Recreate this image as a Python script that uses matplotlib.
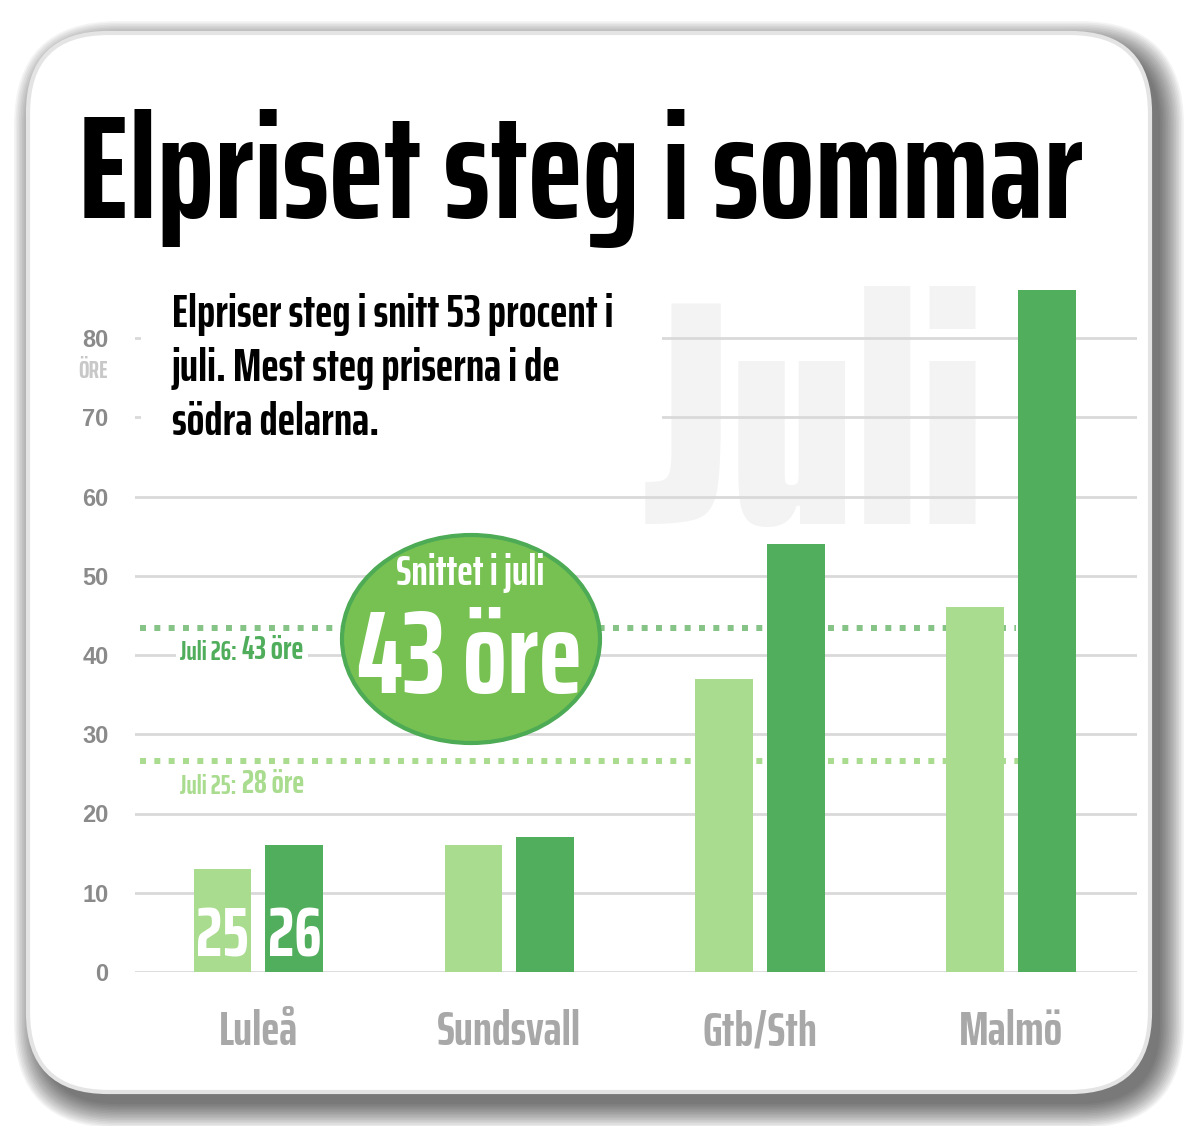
import matplotlib
matplotlib.use('Agg')
import matplotlib.pyplot as plt
import matplotlib.transforms as mtransforms
from matplotlib.patches import FancyBboxPatch, Rectangle, Ellipse
import numpy as np

# data
cities = ['Luleå', 'Sundsvall', 'Gtb/Sth', 'Malmö']
juli25 = [13, 16, 37, 46]
juli26 = [16, 17, 54, 86]
avg25_line = 26.6
avg26_line = 43.4
avg25_text = '28 öre'
avg26_text = '43 öre'
yticks = [0, 10, 20, 30, 40, 50, 60, 70, 80]

COND = 'Saira ExtraCondensed'
LIGHT = '#a9dc8e'
DARK = '#50ae5c'
W, H = 1200, 1126

fig = plt.figure(figsize=(W / 100, H / 100), dpi=100)
fig.patch.set_facecolor('white')

# background: shadow, card, watermark
bg = fig.add_axes([0, 0, 1, 1], zorder=0)
bg.set_xlim(0, W)
bg.set_ylim(H, 0)
bg.axis('off')

cx0, cy0, cx1, cy1 = 28, 33, 1150, 1092
for i in range(16):
    g = i * 1.6
    bg.add_patch(FancyBboxPatch((cx0 - g + 10, cy0 - g + 12), cx1 - cx0 + 2 * g, cy1 - cy0 + 2 * g,
                                boxstyle='round,pad=0,rounding_size=%d' % (80 + g),
                                fc='black', ec='none', alpha=0.045, zorder=1))
bg.add_patch(FancyBboxPatch((cx0, cy0), cx1 - cx0, cy1 - cy0,
                            boxstyle='round,pad=0,rounding_size=80',
                            fc='white', ec='#e4e4e4', lw=3, zorder=2))
bg.text(644, 524, 'Juli', family=COND, fontweight=900, fontsize=230,
        color='#f3f3f3', ha='left', va='baseline', zorder=3)

# main chart
left, right = 135, 1137
y0px = 972
ppu = 7.925
ymax = 88
ax = fig.add_axes([left / W, (H - y0px) / H, (right - left) / W, ymax * ppu / H], zorder=1)
ax.patch.set_visible(False)
x = np.arange(len(cities))
bw = 0.23
off = 0.143
ax.bar(x - off, juli25, bw, color=LIGHT, zorder=3)
ax.bar(x + off, juli26, bw, color=DARK, zorder=3)
ax.set_xlim(-0.492, 3.503)
ax.set_ylim(0, ymax)

ax.plot([-0.472, 3.02], [avg26_line, avg26_line], color='#86c386', lw=4.3,
        ls=(0, (1, 1.4)), dash_capstyle='butt', zorder=2)
ax.plot([-0.472, 3.204], [avg25_line, avg25_line], color=LIGHT, lw=4.3,
        ls=(0, (1, 1.4)), dash_capstyle='butt', zorder=2)

ax.set_axisbelow(True)
ax.yaxis.grid(True, color='#d9d9d9', lw=2)
ax.set_yticks(yticks)
ax.set_yticklabels([str(v) for v in yticks], family='Liberation Sans', fontweight='bold',
                   fontsize=17, color='#8a8a8a')
ax.tick_params(axis='y', length=0, pad=19)
ax.set_xticks([])
for s in ax.spines.values():
    s.set_visible(False)

# year labels inside the Luleå bars
ax.text(x[0] - off, 2.0, '25', family=COND, fontweight=700, fontsize=50, color='white',
        ha='center', va='baseline', zorder=4)
ax.text(x[0] + off, 2.0, '26', family=COND, fontweight=700, fontsize=50, color='white',
        ha='center', va='baseline', zorder=4)

# average labels
box = dict(fc='white', ec='none', pad=3)
t = ax.text(-0.313, 39.4, 'Juli 26:', family=COND, fontweight=700, fontsize=19,
            color='#4fad5b', ha='left', va='baseline', bbox=box, zorder=4)
ax.annotate(avg26_text, xy=(1, 0), xycoords=t, xytext=(4, 0), textcoords='offset points',
            family=COND, fontweight=700, fontsize=23, color='#4fad5b',
            ha='left', va='bottom', bbox=box, zorder=4)
t = ax.text(-0.313, 22.46, 'Juli 25:', family=COND, fontweight=700, fontsize=19,
            color=LIGHT, ha='left', va='baseline', zorder=4)
ax.annotate(avg25_text, xy=(1, 0), xycoords=t, xytext=(4, 0), textcoords='offset points',
            family=COND, fontweight=700, fontsize=23, color=LIGHT,
            ha='left', va='bottom', zorder=4)

# overlay: title, intro, badge, category names
ov = fig.add_axes([0, 0, 1, 1], zorder=2)
ov.set_xlim(0, W)
ov.set_ylim(H, 0)
ov.axis('off')

ov.text(78, 218, 'Elpriset steg i sommar', family=COND, fontweight=700, fontsize=106,
        color='black', ha='left', va='baseline')

ov.add_patch(Rectangle((141, 282), 521, 178, fc='white', ec='none'))
intro = ['Elpriser steg i snitt 53 procent i', 'juli. Mest steg priserna i de', 'södra delarna.']
for i, line in enumerate(intro):
    ov.text(172, 327 + i * 54, line, family=COND, fontweight=700, fontsize=33.5,
            color='black', ha='left', va='baseline')

ov.text(93, 378, 'ÖRE', family=COND, fontweight=700, fontsize=18, color='#c8c8c8',
        ha='center', va='baseline')

ov.add_patch(Ellipse((471, 639), 258, 208, fc='#77c152', ec='#4daa55', lw=3))
ov.text(470, 585, 'Snittet i juli', family=COND, fontweight=700, fontsize=30,
        color='white', ha='center', va='baseline')
ov.text(469, 693, avg26_text, family=COND, fontweight=700, fontsize=84,
        color='white', ha='center', va='baseline')

tr = mtransforms.blended_transform_factory(ax.transData, ov.transData)
for i, c in enumerate(cities):
    ov.text(x[i], 1045, c, transform=tr, family=COND, fontweight=700, fontsize=35,
            color='#a8a8a8', ha='center', va='baseline')

fig.savefig('out.png', dpi=100)
